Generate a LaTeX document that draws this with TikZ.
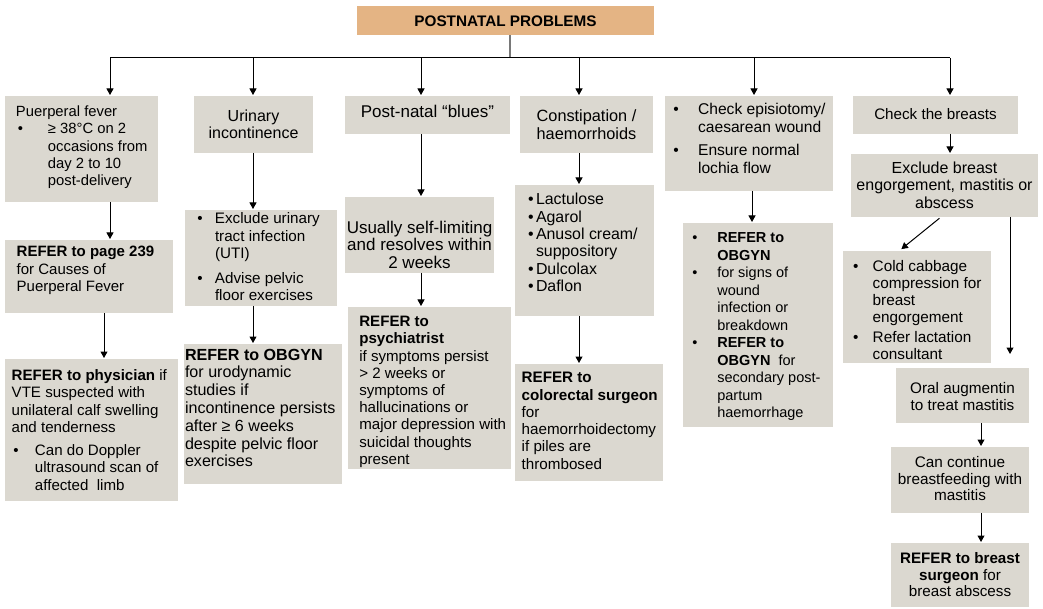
\documentclass[tikz,border=0pt]{standalone}
\usepackage{fontspec}
\setmainfont{Liberation Sans}
\usetikzlibrary{arrows.meta}

\definecolor{boxfill}{RGB}{219,216,208}
\definecolor{headfill}{RGB}{228,180,132}
\definecolor{stemgray}{RGB}{120,120,120}

% left-aligned box body: width, height, left padding, text
\newcommand\lbx[4]{\begin{minipage}[c][#2][t]{#1}\parindent=0pt\leftskip=#3\rightskip=0pt plus 1fil\relax #4\par\end{minipage}}
% centred box body: width, height, text
\newcommand\cbx[3]{\begin{minipage}[c][#2][t]{#1}\centering #3\par\end{minipage}}
% strut fixing the first baseline below the box top
\newcommand\fb[1]{\rule{0pt}{#1}}
\newcommand\gap[1]{\par\vspace{#1}}
% bullet item: bullet offset, hanging indent, text
\newcommand\itm[3]{\par\hangindent=#2\relax\hangafter=1\relax\leavevmode\hbox to #2{\hspace*{#1}\textbullet\hss}#3}

\begin{document}
\begin{tikzpicture}[x=1pt,y=-1pt,
  bx/.style={fill=boxfill, inner sep=0pt, outer sep=0pt, anchor=north west},
  fs/.style 2 args={font=\fontsize{#1}{#2}\selectfont},
  line/.style={draw=black, line width=1pt},
  arr/.style={line, -{Triangle[width=7pt,length=6.5pt]}, shorten >=1pt},
  stem/.style={draw=stemgray, line width=1.2pt}]

\useasboundingbox (0,0) rectangle (1043,609);
\fill[white] (0,0) rectangle (1043,609);

% heading
\node[bx, fill=headfill, fs={15.3}{17}] (title) at (357,6)
  {\cbx{297pt}{29pt}{\fb{20.9pt}\textbf{POSTNATAL PROBLEMS}}};

% puerperal fever
\node[bx, fs={14.8}{17.3}] (fev1) at (5,96)
  {\lbx{153pt}{106pt}{11pt}{\fb{20.7pt}Puerperal fever\itm{2pt}{32pt}{≥ 38°C on 2\\occasions from\\day 2 to 10\\post-delivery}}};
\node[bx, fs={15}{17.5}] (fev2) at (5,240)
  {\lbx{168pt}{73pt}{11.7pt}{\fb{16.7pt}\textbf{REFER to page 239}\\for Causes of\\Puerperal Fever}};
\node[bx, fs={15.1}{17.6}] (fev3) at (5,359)
  {\lbx{173pt}{142pt}{6.7pt}{\fb{21pt}\textbf{REFER to physician} if\\VTE suspected with\\unilateral calf swelling\\and tenderness\gap{4.7pt}\itm{1.7pt}{23.3pt}{Can do Doppler\\ultrasound scan of\\affected\ \ limb}}};

% urinary incontinence
\node[bx, fs={16}{16.5}] (uri1) at (194,96)
  {\cbx{119pt}{57pt}{\fb{26pt}Urinary\\incontinence}};
\node[bx, fs={15.2}{17.5}] (uri2) at (185,210)
  {\lbx{152pt}{96pt}{12.4pt}{\itm{0pt}{17.6pt}{\fb{14pt}Exclude urinary\\tract infection\\(UTI)}\gap{7pt}\itm{0pt}{17.6pt}{Advise pelvic\\floor exercises}}};
\node[bx, fs={16.1}{17.8}] (uri3) at (184,344)
  {\lbx{158pt}{140pt}{1pt}{\fb{16pt}\textbf{REFER to OBGYN}\\for urodynamic\\studies if\\incontinence persists\\after ≥ 6 weeks\\despite pelvic floor\\exercises}};

% post-natal blues
\node[bx, fs={17}{18}] (blu1) at (345,96)
  {\cbx{165pt}{38pt}{\fb{21.2pt}Post-natal “blues”}};
\node[bx, fs={17}{17.5}] (blu2) at (345,197)
  {\cbx{149pt}{76pt}{\fb{36.5pt}Usually self-limiting\\and resolves within\\2 weeks}};
\node[bx, fs={15.1}{17.2}] (blu3) at (348,307)
  {\lbx{163pt}{162pt}{11.3pt}{\fb{19.7pt}\textbf{REFER to}\\\textbf{psychiatrist}\\if symptoms persist\\> 2 weeks or\\symptoms of\\hallucinations or\\major depression with\\suicidal thoughts\\present}};

% constipation / haemorrhoids
\node[bx, fs={16.3}{18.3}] (con1) at (520,96)
  {\cbx{133pt}{57pt}{\fb{25.7pt}Constipation /\\haemorrhoids}};
\node[bx, fs={15.9}{17.3}] (con2) at (515,185)
  {\lbx{139pt}{131pt}{13pt}{\itm{0pt}{8pt}{\fb{20pt}Lactulose}\itm{0pt}{8pt}{Agarol}\itm{0pt}{8pt}{Anusol cream/\\suppository}\itm{0pt}{8pt}{Dulcolax}\itm{0pt}{8pt}{Daflon}}};
\node[bx, fs={15.2}{17.3}] (con3) at (515,364)
  {\lbx{148pt}{117pt}{6.7pt}{\fb{18.7pt}\textbf{REFER to}\\\textbf{colorectal surgeon}\\for\\haemorrhoidectomy\\if piles are\\thrombosed}};

% wound and lochia
\node[bx, fs={15.6}{17.5}] (wnd1) at (665,96)
  {\lbx{168pt}{95pt}{8.4pt}{\itm{0pt}{24.7pt}{\fb{19pt}Check episiotomy/\\caesarean wound}\gap{5.8pt}\itm{0pt}{24.7pt}{Ensure normal\\lochia flow}}};
\node[bx, fs={14.5}{17.5}] (wnd2) at (683,223)
  {\lbx{150pt}{204pt}{9.4pt}{\itm{0pt}{24.9pt}{\fb{19.7pt}\textbf{REFER to}\\\textbf{OBGYN}}\itm{0pt}{24.9pt}{for signs of\\wound\\infection or\\breakdown}\itm{0pt}{24.9pt}{\textbf{REFER to}\\\textbf{OBGYN}\ \ for\\secondary post-\\partum\\haemorrhage}}};

% breasts
\node[bx, fs={15.2}{18}] (br1) at (853,96)
  {\cbx{165pt}{38pt}{\fb{23.3pt}Check the breasts}};
\node[bx, fs={16}{17.5}] (br2) at (851,154)
  {\cbx{187pt}{63pt}{\fb{19.3pt}Exclude breast\\engorgement, mastitis or\\abscess}};
\node[bx, fs={15.3}{16.8}] (br3) at (843,251)
  {\lbx{148pt}{112pt}{10pt}{\itm{0pt}{19.7pt}{\fb{20.7pt}Cold cabbage\\compression for\\breast\\engorgement}\gap{4pt}\itm{0pt}{19.7pt}{Refer lactation\\consultant}}};
\node[bx, fs={15.3}{16.7}] (br4) at (896,368)
  {\cbx{133pt}{55pt}{\fb{25.3pt}Oral augmentin\\to treat mastitis}};
\node[bx, fs={15.3}{16.7}] (br5) at (891,447)
  {\cbx{138pt}{66pt}{\fb{20.3pt}Can continue\\breastfeeding with\\mastitis}};
\node[bx, fs={15.2}{16.7}] (br6) at (891,543)
  {\cbx{138pt}{64pt}{\fb{20.3pt}\textbf{REFER to breast}\\\textbf{surgeon} for\\breast abscess}};

% distribution bus under the heading
\coordinate (bus0) at (510,58);
\coordinate (bus1) at (110,58);
\coordinate (bus2) at (253,58);
\coordinate (bus3) at (421,58);
\coordinate (bus4) at (579,58);
\coordinate (bus5) at (754,58);
\coordinate (bus6) at (950,58);
\draw[stem] (title.south -| bus0) -- (bus0);
\draw[line] (bus1) -- (bus6);
\draw[arr] (bus1) -- (bus1 |- fev1.north);
\draw[arr] (bus2) -- (bus2 |- uri1.north);
\draw[arr] (bus3) -- (bus3 |- blu1.north);
\draw[arr] (bus4) -- (bus4 |- con1.north);
\draw[arr] (bus5) -- (bus5 |- wnd1.north);
\draw[arr] (bus6) -- (bus6 |- br1.north);

% columns
\coordinate (kx1) at (104,0);
\coordinate (kx2) at (752,0);
\coordinate (kx3) at (941,0);
\coordinate (kx4) at (899,0);
\coordinate (kx5) at (1010,0);
\coordinate (kx6) at (981,0);
\draw[arr] (fev1.south -| bus1) -- (fev2.north -| bus1);
\draw[arr] (fev2.south -| kx1) -- (fev3.north -| kx1);
\draw[arr] (uri1.south -| bus2) -- (uri2.north -| bus2);
\draw[arr] (uri2.south -| bus2) -- (uri3.north -| bus2);
\draw[arr] (blu1.south -| bus3) -- (blu2.north -| bus3);
\draw[arr] (blu2.south -| bus3) -- (blu3.north -| bus3);
\draw[arr] (con1.south -| bus4) -- (con2.north -| bus4);
\draw[arr] (con2.south -| bus4) -- (con3.north -| bus4);
\draw[arr] (wnd1.south -| kx2) -- (wnd2.north -| kx2);
\draw[arr] (br1.south -| bus6) -- (br2.north -| bus6);
\draw[arr, shorten <=2pt, shorten >=3pt] (br2.south -| kx3) -- (br3.north -| kx4);
\draw[arr, shorten >=14pt] (br2.south -| kx5) -- (br4.north -| kx5);
\draw[arr] (br4.south -| kx6) -- (br5.north -| kx6);
\draw[arr] (br5.south -| kx6) -- (br6.north -| kx6);
\end{tikzpicture}
\end{document}
